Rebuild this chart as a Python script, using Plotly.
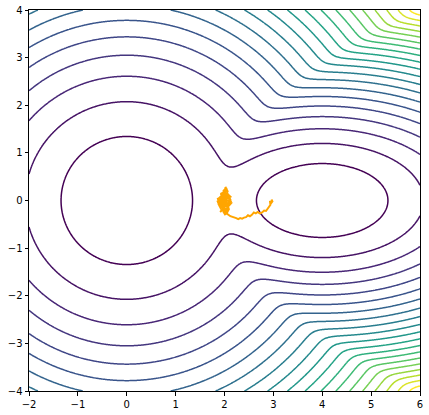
import numpy as np
import plotly.graph_objects as go

# two gaussian wells, energy = -log(0.5*p1 + 0.5*p2)
WELL_CENTERS = [(0.0, 0.0), (4.0, 0.0)]
WELL_PRECISION = [(1.0, 1.0), (1.0, 3.0)]
WELL_WEIGHTS = [0.5, 0.5]

LEVEL_START = 2.5
LEVEL_END = 50.0
LEVEL_STEP = 2.5

X_TICKS = [-2, -1, 0, 1, 2, 3, 4, 5, 6]
Y_TICKS = [-4, -3, -2, -1, 0, 1, 2, 3, 4]

# walker path (starts near (3, 0), ends stuck around the saddle)
PATH_X = [2.96, 2.98, 2.95, 2.93, 2.94, 2.91, 2.88, 2.85, 2.81, 2.77, 2.72, 2.68, 2.64,
          2.60, 2.56, 2.52, 2.48, 2.44, 2.40, 2.36, 2.32, 2.28, 2.24, 2.20, 2.16, 2.12,
          2.08, 2.04, 2.01, 1.98, 2.03, 1.96, 2.05, 1.99, 1.93, 1.96, 2.07, 2.11, 2.03,
          1.91, 1.87, 1.94, 2.05, 2.12, 2.08, 1.98, 1.92, 2.00, 2.04, 2.01, 2.04, 2.06,
          1.97, 1.89, 1.94, 2.08, 2.14, 2.06, 1.98, 1.90, 1.96, 2.02, 1.95, 1.88, 1.93,
          2.03, 2.09, 2.00, 1.94, 2.01, 2.06, 1.99, 2.03, 1.97, 2.02, 1.99,
          1.92, 1.87, 1.95, 2.10, 2.13, 2.04, 1.90, 1.86, 1.97, 2.08, 2.12, 1.99, 1.91,
          1.95, 2.05, 2.09, 2.02, 1.96, 2.01, 2.07, 2.03, 1.98, 2.02, 1.96, 2.00, 2.05,
          1.99, 1.94, 2.00, 2.06, 2.01, 1.98]
PATH_Y = [0.02, -0.02, -0.06, -0.01, -0.09, -0.14, -0.18, -0.22, -0.21, -0.25, -0.27, -0.24,
          -0.27, -0.25, -0.30, -0.33, -0.31, -0.35, -0.36, -0.38, -0.37, -0.39, -0.37, -0.36,
          -0.35, -0.33, -0.30, -0.27, -0.29, -0.24, -0.19, -0.13, -0.09, -0.12, -0.15,
          -0.05, -0.07, -0.01, 0.02, 0.00, 0.04, 0.08, 0.05, 0.08, 0.12, 0.10, 0.14, 0.18,
          0.22, 0.28, 0.25, 0.15, 0.04, -0.04, -0.10, -0.12, -0.05, 0.00, -0.04, 0.06,
          0.12, 0.08, -0.02, -0.08, -0.18, -0.22, -0.14, -0.20, 0.02, 0.16, 0.10, 0.20,
          0.06, -0.06, 0.03, 0.00,
          -0.06, 0.02, 0.10, 0.04, -0.02, -0.10, -0.12, -0.02, 0.06, 0.10, 0.02, -0.16,
          -0.24, -0.20, -0.26, -0.18, -0.08, 0.12, 0.22, 0.18, 0.26, 0.20, 0.12, 0.16,
          0.06, 0.00, -0.04, 0.08, -0.08, -0.14, 0.04, 0.00]

FONT = "DejaVu Sans"


def energy(x, y):
    p = 0
    for (cx, cy), (ax, ay), w in zip(WELL_CENTERS, WELL_PRECISION, WELL_WEIGHTS):
        p = p + w * np.exp(-(ax * (x - cx) ** 2 + ay * (y - cy) ** 2))
    return -np.log(p)


def make_plot():
    xs = np.linspace(-2, 6, 401)
    ys = np.linspace(-4, 4, 401)
    X, Y = np.meshgrid(xs, ys)
    Z = energy(X, Y)

    fig = go.Figure()
    fig.add_trace(go.Contour(
        x=xs, y=ys, z=Z,
        colorscale="Viridis",
        zauto=False, zmin=LEVEL_START, zmax=LEVEL_END,
        autocontour=False,
        contours=dict(start=LEVEL_START, end=LEVEL_END, size=LEVEL_STEP, coloring="lines"),
        line=dict(width=1.5),
        showscale=False,
        hoverinfo="skip",
    ))
    fig.add_trace(go.Scatter(x=PATH_X, y=PATH_Y, mode="lines",
                             line=dict(color="#ffa500", width=2), showlegend=False))

    axis_style = dict(
        showline=True, linecolor="black", linewidth=1, mirror=True,
        showgrid=False, zeroline=False,
        ticks="outside", ticklen=3.5, tickcolor="black", tickwidth=1,
        tickfont=dict(family=FONT, size=10, color="black"),
    )
    fig.update_xaxes(range=[-2, 6], tickvals=X_TICKS, **axis_style)
    fig.update_yaxes(range=[-4, 4], tickvals=Y_TICKS, **axis_style)

    fig.update_layout(
        width=429, height=415,
        margin=dict(l=29, r=9, t=10, b=24, autoexpand=False),
        plot_bgcolor="white", paper_bgcolor="white",
        showlegend=False,
    )
    # drop the default page margin so the figure sits at the window corner
    fig.write_html("out.html", config={"displayModeBar": False},
                   post_script="document.body.style.margin='0px';")


if __name__ == '__main__':
    make_plot()
